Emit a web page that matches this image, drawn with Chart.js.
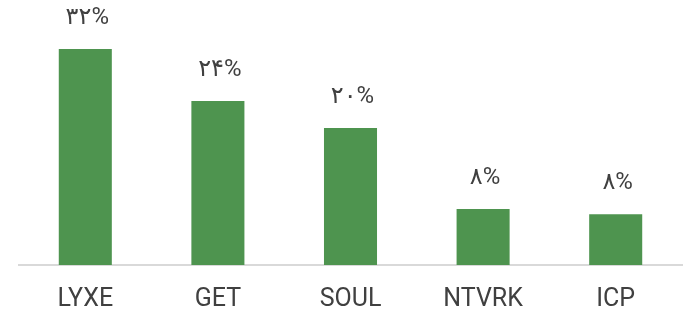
<!DOCTYPE html>
<html>
<head>
<meta charset="utf-8">
<script src="https://cdn.jsdelivr.net/npm/chart.js@4/dist/chart.umd.min.js"></script>
<style>
  html, body { margin: 0; padding: 0; background: #fff; }
  #wrap { width: 684px; height: 311px; }
</style>
</head>
<body>
<div id="wrap"><canvas id="barChart"></canvas></div>
<script>
// data
const categories = ['LYXE', 'GET', 'SOUL', 'NTVRK', 'ICP'];
const shares = [32, 24.3, 20.3, 8.3, 7.5];
const shareLabels = ['۳۲%', '۲۴%', '۲۰%', '۸%', '۸%'];

const barColor = '#4e944f';
const textColor = '#404040';
const fontFamily = "Roboto, 'DejaVu Sans', sans-serif";

// draws the percent text above each bar
const topLabels = {
  id: 'topLabels',
  afterDatasetsDraw(chart) {
    const ctx = chart.ctx;
    const meta = chart.getDatasetMeta(0);
    ctx.save();
    ctx.fillStyle = textColor;
    ctx.font = '24px ' + fontFamily;
    ctx.textAlign = 'center';
    ctx.textBaseline = 'middle';
    meta.data.forEach(function (bar, i) {
      ctx.fillText(shareLabels[i], bar.x + 2, bar.y - 31);
    });
    ctx.restore();
  }
};

new Chart(document.getElementById('barChart'), {
  type: 'bar',
  data: {
    labels: categories,
    datasets: [{
      data: shares,
      backgroundColor: barColor,
      borderWidth: 0,
      barPercentage: 0.4,
      categoryPercentage: 1
    }]
  },
  options: {
    responsive: true,
    maintainAspectRatio: false,
    animation: false,
    layout: { padding: { left: 19, right: 2, top: 0, bottom: 0 } },
    plugins: {
      legend: { display: false },
      tooltip: { enabled: false }
    },
    scales: {
      x: {
        grid: { display: false, drawTicks: false },
        border: { display: true, color: '#d9d9d9', width: 2 },
        ticks: {
          color: textColor,
          font: { family: fontFamily, size: 25 },
          padding: 20,
          maxRotation: 0
        },
        afterFit: function (scale) { scale.height = 46; }
      },
      y: {
        display: false,
        min: 0,
        max: 39.25
      }
    }
  },
  plugins: [topLabels]
});
</script>
</body>
</html>
